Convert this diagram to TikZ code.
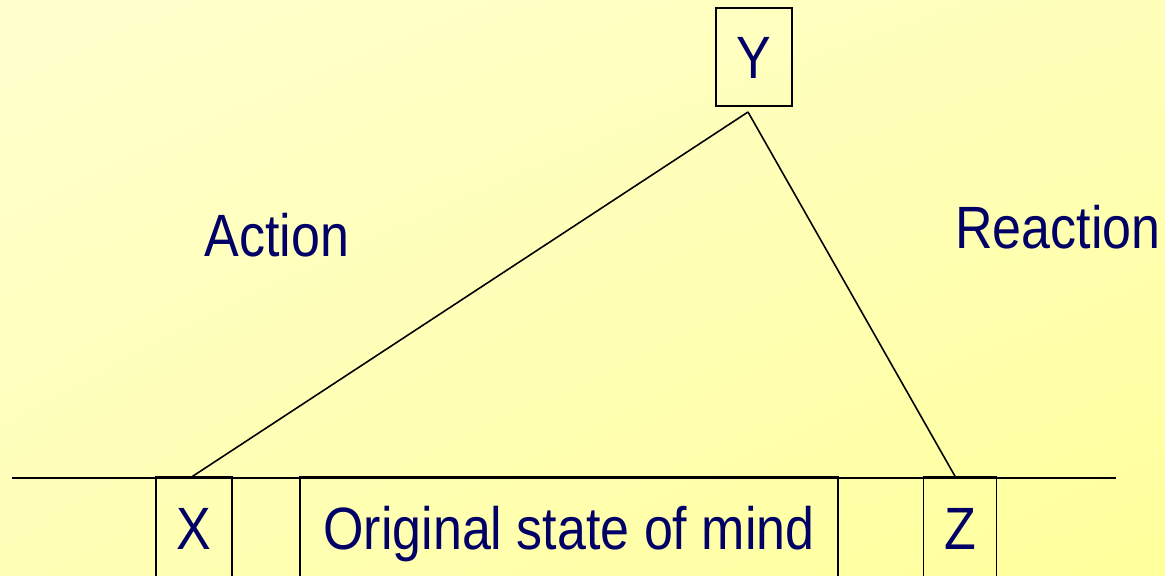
\documentclass[tikz,border=0pt]{standalone}
\usepackage{fontspec}
\setmainfont[FakeStretch=0.87]{Liberation Sans}
\usetikzlibrary{positioning, shadings}
\definecolor{paperlo}{RGB}{255,255,206}
\definecolor{paperhi}{RGB}{255,255,156}
\definecolor{inkc}{RGB}{0,0,102}
\tikzset{
  lbl/.style={font=\fontsize{34}{40}\selectfont, text=inkc, inner sep=0pt},
  cell/.style={lbl, rectangle, draw=black, line width=1.1pt,
               text height=24.3pt, text depth=0pt,
               minimum width=1.52cm, minimum height=2.04cm},
  wire/.style={draw=black, line width=0.9pt},
}

\begin{document}
\begin{tikzpicture}[x=0.02cm, y=-0.02cm]

  % page with the slide's soft yellow wash
  \useasboundingbox (0,0) rectangle (1165,575);
  \shade[upper left=paperlo, upper right=paperlo!60!paperhi,
         lower left=paperlo!55!paperhi, lower right=paperhi]
    (0,0) rectangle (1165,575);
  \clip (0,0) rectangle (1165,575);

  % the three states
  \node[cell, minimum height=1.96cm] (y) at (754,57) {Y};
  \node[cell] (x) at (194,528) {X};
  \node[cell, minimum width=1.46cm] (z) at (960,528) {Z};
  \node[cell, minimum width=10.76cm] (orig) at (569,528) {Original state of mind};

  \coordinate (ground west) at (12,478);
  \coordinate (ground east) at (1116,478);
  \coordinate (apex) at (748,112);
  \coordinate (xtop) at (190,478);
  \coordinate (ztop) at (956,478);

  \draw[wire] (ground west) -- (ground east);
  \draw[wire] (apex) -- (xtop);
  \draw[wire] (apex) -- (ztop);

  \node[lbl] (action) at (277,235) {Action};
  \node[lbl] (reaction) at (1058,227) {Reaction};

\end{tikzpicture}
\end{document}
